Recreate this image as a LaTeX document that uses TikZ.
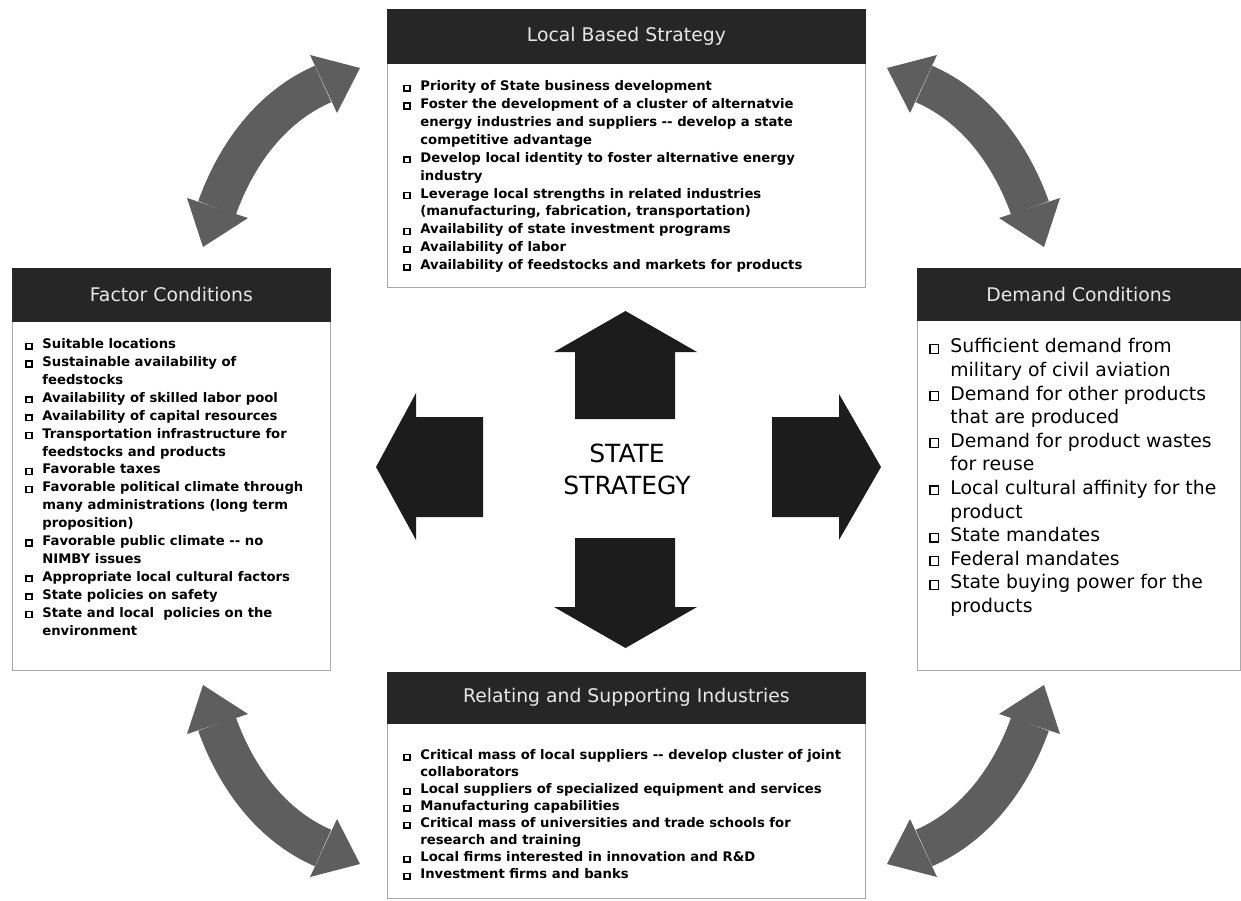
\documentclass[tikz,border=0pt]{standalone}
\usepackage{fontspec}
\setmainfont{DejaVu Sans}
\usetikzlibrary{arrows.meta,positioning}
\definecolor{hdrfill}{HTML}{262626}
\definecolor{hdrtext}{HTML}{E8E8E8}
\definecolor{framegray}{HTML}{A8A8A8}
\definecolor{swinggray}{HTML}{5E5E5E}
\definecolor{blockfill}{HTML}{1C1C1C}
\newcommand\sqb{\makebox[17pt][l]{\raisebox{0.3pt}{\fboxsep=0pt\fboxrule=1.4pt\fbox{\rule{0pt}{4.4pt}\rule{4.4pt}{0pt}}}}}
\newcommand\sqbig{\makebox[21pt][l]{\raisebox{0.3pt}{\fboxsep=0pt\fboxrule=1.2pt\fbox{\rule{0pt}{7.5pt}\rule{7.5pt}{0pt}}}}}
\newcommand\cnt{\hspace*{17pt}}
\newcommand\cntbig{\hspace*{21pt}}

\begin{document}
\begin{tikzpicture}[
    x=1pt, y=-1pt,
    frame/.style={draw=framegray, line width=0.8pt, fill=white, inner sep=0pt},
    hdr/.style={fill=hdrfill, draw=hdrfill, text=hdrtext, inner sep=0pt,
                font=\fontsize{18.8}{22}\selectfont},
    items/.style={align=left, inner sep=0pt, anchor=north west,
                  font=\fontsize{13.2}{17.9}\selectfont\bfseries},
    bigitems/.style={align=left, inner sep=0pt, anchor=north west,
                     font=\fontsize{18.8}{23.6}\selectfont},
    block/.style={fill=blockfill},
    swing/.style={draw=swinggray, line width=40pt}
]
\useasboundingbox (0,0) rectangle (1241,901);

% four swing arrows, mirrored round the centre
\foreach \sx/\sy in {1/1,-1/1,1/-1,-1/-1} {
  \begin{scope}[shift={(623.5,466)}, xscale=\sx, yscale=\sy]
    \draw[swing] (-406.5,-258) .. controls (-387.4,-311.3) and (-352.5,-359.5) .. (-300.5,-382);
    \fill[swinggray] (-436.5,-268) -- (-420.5,-219) -- (-375.5,-248) -- cycle;
    \fill[swinggray] (-313.5,-411) -- (-263.5,-398) -- (-286.5,-353) -- cycle;
  \end{scope}
}

% Local Based Strategy
\node[frame, minimum width=478pt, minimum height=278pt, anchor=north west] (lbs) at (387,9) {};
\node[hdr, minimum width=478pt, minimum height=54pt, anchor=north] (lbsT) at (lbs.north) {Local Based Strategy};
\node[items] (lbsL) at ([xshift=16pt, yshift=-17pt]lbsT.south west)
    {\sqb Priority of State business development\\
     \sqb Foster the development of a cluster of alternatvie\\
     \cnt energy industries and suppliers -{}- develop a state\\
     \cnt competitive advantage\\
     \sqb Develop local identity to foster alternative energy\\
     \cnt industry\\
     \sqb Leverage local strengths in related industries\\
     \cnt (manufacturing, fabrication, transportation)\\
     \sqb Availability of state investment programs\\
     \sqb Availability of labor\\
     \sqb Availability of feedstocks and markets for products};

% Factor Conditions
\node[frame, minimum width=318pt, minimum height=402pt, anchor=north west] (fac) at (12,268) {};
\node[hdr, minimum width=318pt, minimum height=53pt, anchor=north] (facT) at (fac.north) {Factor Conditions};
\node[items] (facL) at ([xshift=13pt, yshift=-17pt]facT.south west)
    {\sqb Suitable locations\\
     \sqb Sustainable availability of\\
     \cnt feedstocks\\
     \sqb Availability of skilled labor pool\\
     \sqb Availability of capital resources\\
     \sqb Transportation infrastructure for\\
     \cnt feedstocks and products\\
     \sqb Favorable taxes\\
     \sqb Favorable political climate through\\
     \cnt many administrations (long term\\
     \cnt proposition)\\
     \sqb Favorable public climate -{}- no\\
     \cnt NIMBY issues\\
     \sqb Appropriate local cultural factors\\
     \sqb State policies on safety\\
     \sqb State and local\ \ policies on the\\
     \cnt environment};

% Demand Conditions
\node[frame, minimum width=323pt, minimum height=402pt, anchor=north west] (dem) at (917,268) {};
\node[hdr, minimum width=323pt, minimum height=52pt, anchor=north] (demT) at (dem.north) {Demand Conditions};
\node[bigitems] (demL) at ([xshift=12pt, yshift=-18pt]demT.south west)
    {\sqbig Sufficient demand from\\
     \cntbig military of civil aviation\\
     \sqbig Demand for other products\\
     \cntbig that are produced\\
     \sqbig Demand for product wastes\\
     \cntbig for reuse\\
     \sqbig Local cultural affinity for the\\
     \cntbig product\\
     \sqbig State mandates\\
     \sqbig Federal mandates\\
     \sqbig State buying power for the\\
     \cntbig products};

% Relating and Supporting Industries
\node[frame, minimum width=478pt, minimum height=226pt, anchor=north west] (rsi) at (387,672) {};
\node[hdr, minimum width=478pt, minimum height=51pt, anchor=north] (rsiT) at (rsi.north) {Relating and Supporting Industries};
\node[items, font=\fontsize{13.2}{17}\selectfont\bfseries] (rsiL) at ([xshift=16pt, yshift=-26pt]rsiT.south west)
    {\sqb Critical mass of local suppliers -{}- develop cluster of joint\\
     \cnt collaborators\\
     \sqb Local suppliers of specialized equipment and services\\
     \sqb Manufacturing capabilities\\
     \sqb Critical mass of universities and trade schools for\\
     \cnt research and training\\
     \sqb Local firms interested in innovation and R\&D\\
     \sqb Investment firms and banks};

% centre and block arrows
\node[align=center, font=\fontsize{25}{32}\selectfont] (core) at (627,469) {STATE\\STRATEGY};
\fill[block] (575,419) -- (575,352) -- (554,352) -- (625.5,311) -- (697,352) -- (675,352) -- (675,419) -- cycle;
\fill[block] (575,538) -- (675,538) -- (675,607) -- (697,607) -- (625.5,648) -- (554,607) -- (575,607) -- cycle;
\fill[block] (483,417) -- (416,417) -- (416,393) -- (376,467) -- (416,540) -- (416,517) -- (483,517) -- cycle;
\fill[block] (772,417) -- (839,417) -- (839,394) -- (881,467) -- (839,540) -- (839,517) -- (772,517) -- cycle;
\end{tikzpicture}
\end{document}
